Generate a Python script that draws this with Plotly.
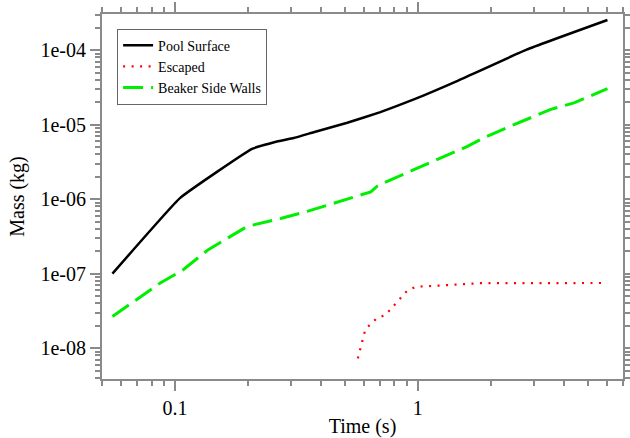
import plotly.graph_objects as go
import math

# ---- data ----
pool_t = [0.0552, 0.105, 0.2075, 0.263, 0.308, 0.372, 0.512, 0.701, 0.963, 1.164, 1.45, 2.82, 6.04]
pool_m = [1e-7, 1.04e-6, 4.73e-6, 5.95e-6, 6.6e-6, 7.9e-6, 1.06e-5, 1.47e-5, 2.18e-5, 2.81e-5, 3.83e-5, 1.02e-4, 2.53e-4]

escaped_t = [0.566, 0.608, 0.676, 0.736, 0.904, 0.98, 1.2, 1.8, 6.04]
escaped_m = [7.3e-9, 1.8e-8, 2.5e-8, 2.8e-8, 5.9e-8, 6.67e-8, 6.9e-8, 7.45e-8, 7.5e-8]

walls_t = [0.0552, 0.0869, 0.108, 0.137, 0.198, 0.272, 0.35, 0.41, 0.562, 0.64, 0.68, 0.748, 0.963, 1.2, 1.6, 1.87, 2.49, 3.53, 4.4, 6.04]
walls_m = [2.66e-8, 7.5e-8, 1.13e-7, 2.1e-7, 4.3e-7, 5.5e-7, 6.85e-7, 8.0e-7, 1.09e-6, 1.25e-6, 1.49e-6, 1.73e-6, 2.49e-6, 3.4e-6, 5.1e-6, 6.65e-6, 1.0e-5, 1.6e-5, 1.96e-5, 3.03e-5]

x_tickvals = [0.1, 1]
x_ticktext = ["0.1", "1"]
y_tickvals = [1e-8, 1e-7, 1e-6, 1e-5, 1e-4]
y_ticktext = ["1e-08", "1e-07", "1e-06", "1e-05", "1e-04"]

x_range = [0.05, 7.0]
y_range = [3.86e-9, 3.05e-4]

# minor ticks (2..9 in every decade inside the range)
def minor_vals(lo, hi):
    vals = []
    for n in range(int(math.floor(math.log10(lo))) - 1, int(math.ceil(math.log10(hi))) + 1):
        for k in range(2, 10):
            v = k * 10 ** n
            if lo * 0.999 <= v <= hi * 1.001:
                vals.append(v)
    return vals

FONT = "Liberation Serif"
AXIS_COLOR = "#8a8a8a"

fig = go.Figure()
fig.add_trace(go.Scatter(x=pool_t, y=pool_m, mode="lines", name="Pool Surface",
                         line=dict(color="black", width=2.5, shape="spline", smoothing=0.3)))
fig.add_trace(go.Scatter(x=escaped_t, y=escaped_m, mode="lines", name="Escaped",
                         line=dict(color="#ff0000", width=2.2, dash="2px,6.5px")))
fig.add_trace(go.Scatter(x=walls_t, y=walls_m, mode="lines", name="Beaker Side Walls",
                         line=dict(color="#00ee00", width=3, dash="20px,8px")))

axis_common = dict(
    type="log", showgrid=False, zeroline=False, automargin=False,
    showline=True, linecolor=AXIS_COLOR, linewidth=2,
    mirror="ticks", ticks="outside", ticklen=10, tickwidth=1.5, tickcolor=AXIS_COLOR,
    tickfont=dict(family=FONT, size=20, color="black"),
    tickmode="array",
)

fig.update_layout(
    width=630, height=438,
    margin=dict(l=102, r=7, t=14, b=59, autoexpand=False),
    paper_bgcolor="white", plot_bgcolor="white",
    font=dict(family=FONT, color="black"),
    showlegend=True,
    legend=dict(x=0.029, y=0.96, xanchor="left", yanchor="top",
                bordercolor="#666666", borderwidth=1, bgcolor="white",
                font=dict(family=FONT, size=14, color="black"),
                tracegroupgap=0, itemwidth=30),
    xaxis=dict(**axis_common,
               range=[math.log10(x_range[0]), math.log10(x_range[1])],
               tickvals=x_tickvals, ticktext=x_ticktext,
               minor=dict(tickmode="array", tickvals=minor_vals(*x_range), ticks="outside",
                          ticklen=5, tickwidth=1.5, tickcolor=AXIS_COLOR),
               title=dict(text="Time (s)", font=dict(family=FONT, size=20), standoff=2)),
    yaxis=dict(**axis_common,
               range=[math.log10(y_range[0]), math.log10(y_range[1])],
               tickvals=y_tickvals, ticktext=y_ticktext,
               minor=dict(tickmode="array", tickvals=minor_vals(*y_range), ticks="outside",
                          ticklen=5, tickwidth=1.5, tickcolor=AXIS_COLOR),
               title=dict(text="Mass (kg)", font=dict(family=FONT, size=20), standoff=10)),
)

fig.write_html("out.html",
               config={"displayModeBar": False},
               post_script="document.body.style.margin='0';document.body.style.padding='0';")
